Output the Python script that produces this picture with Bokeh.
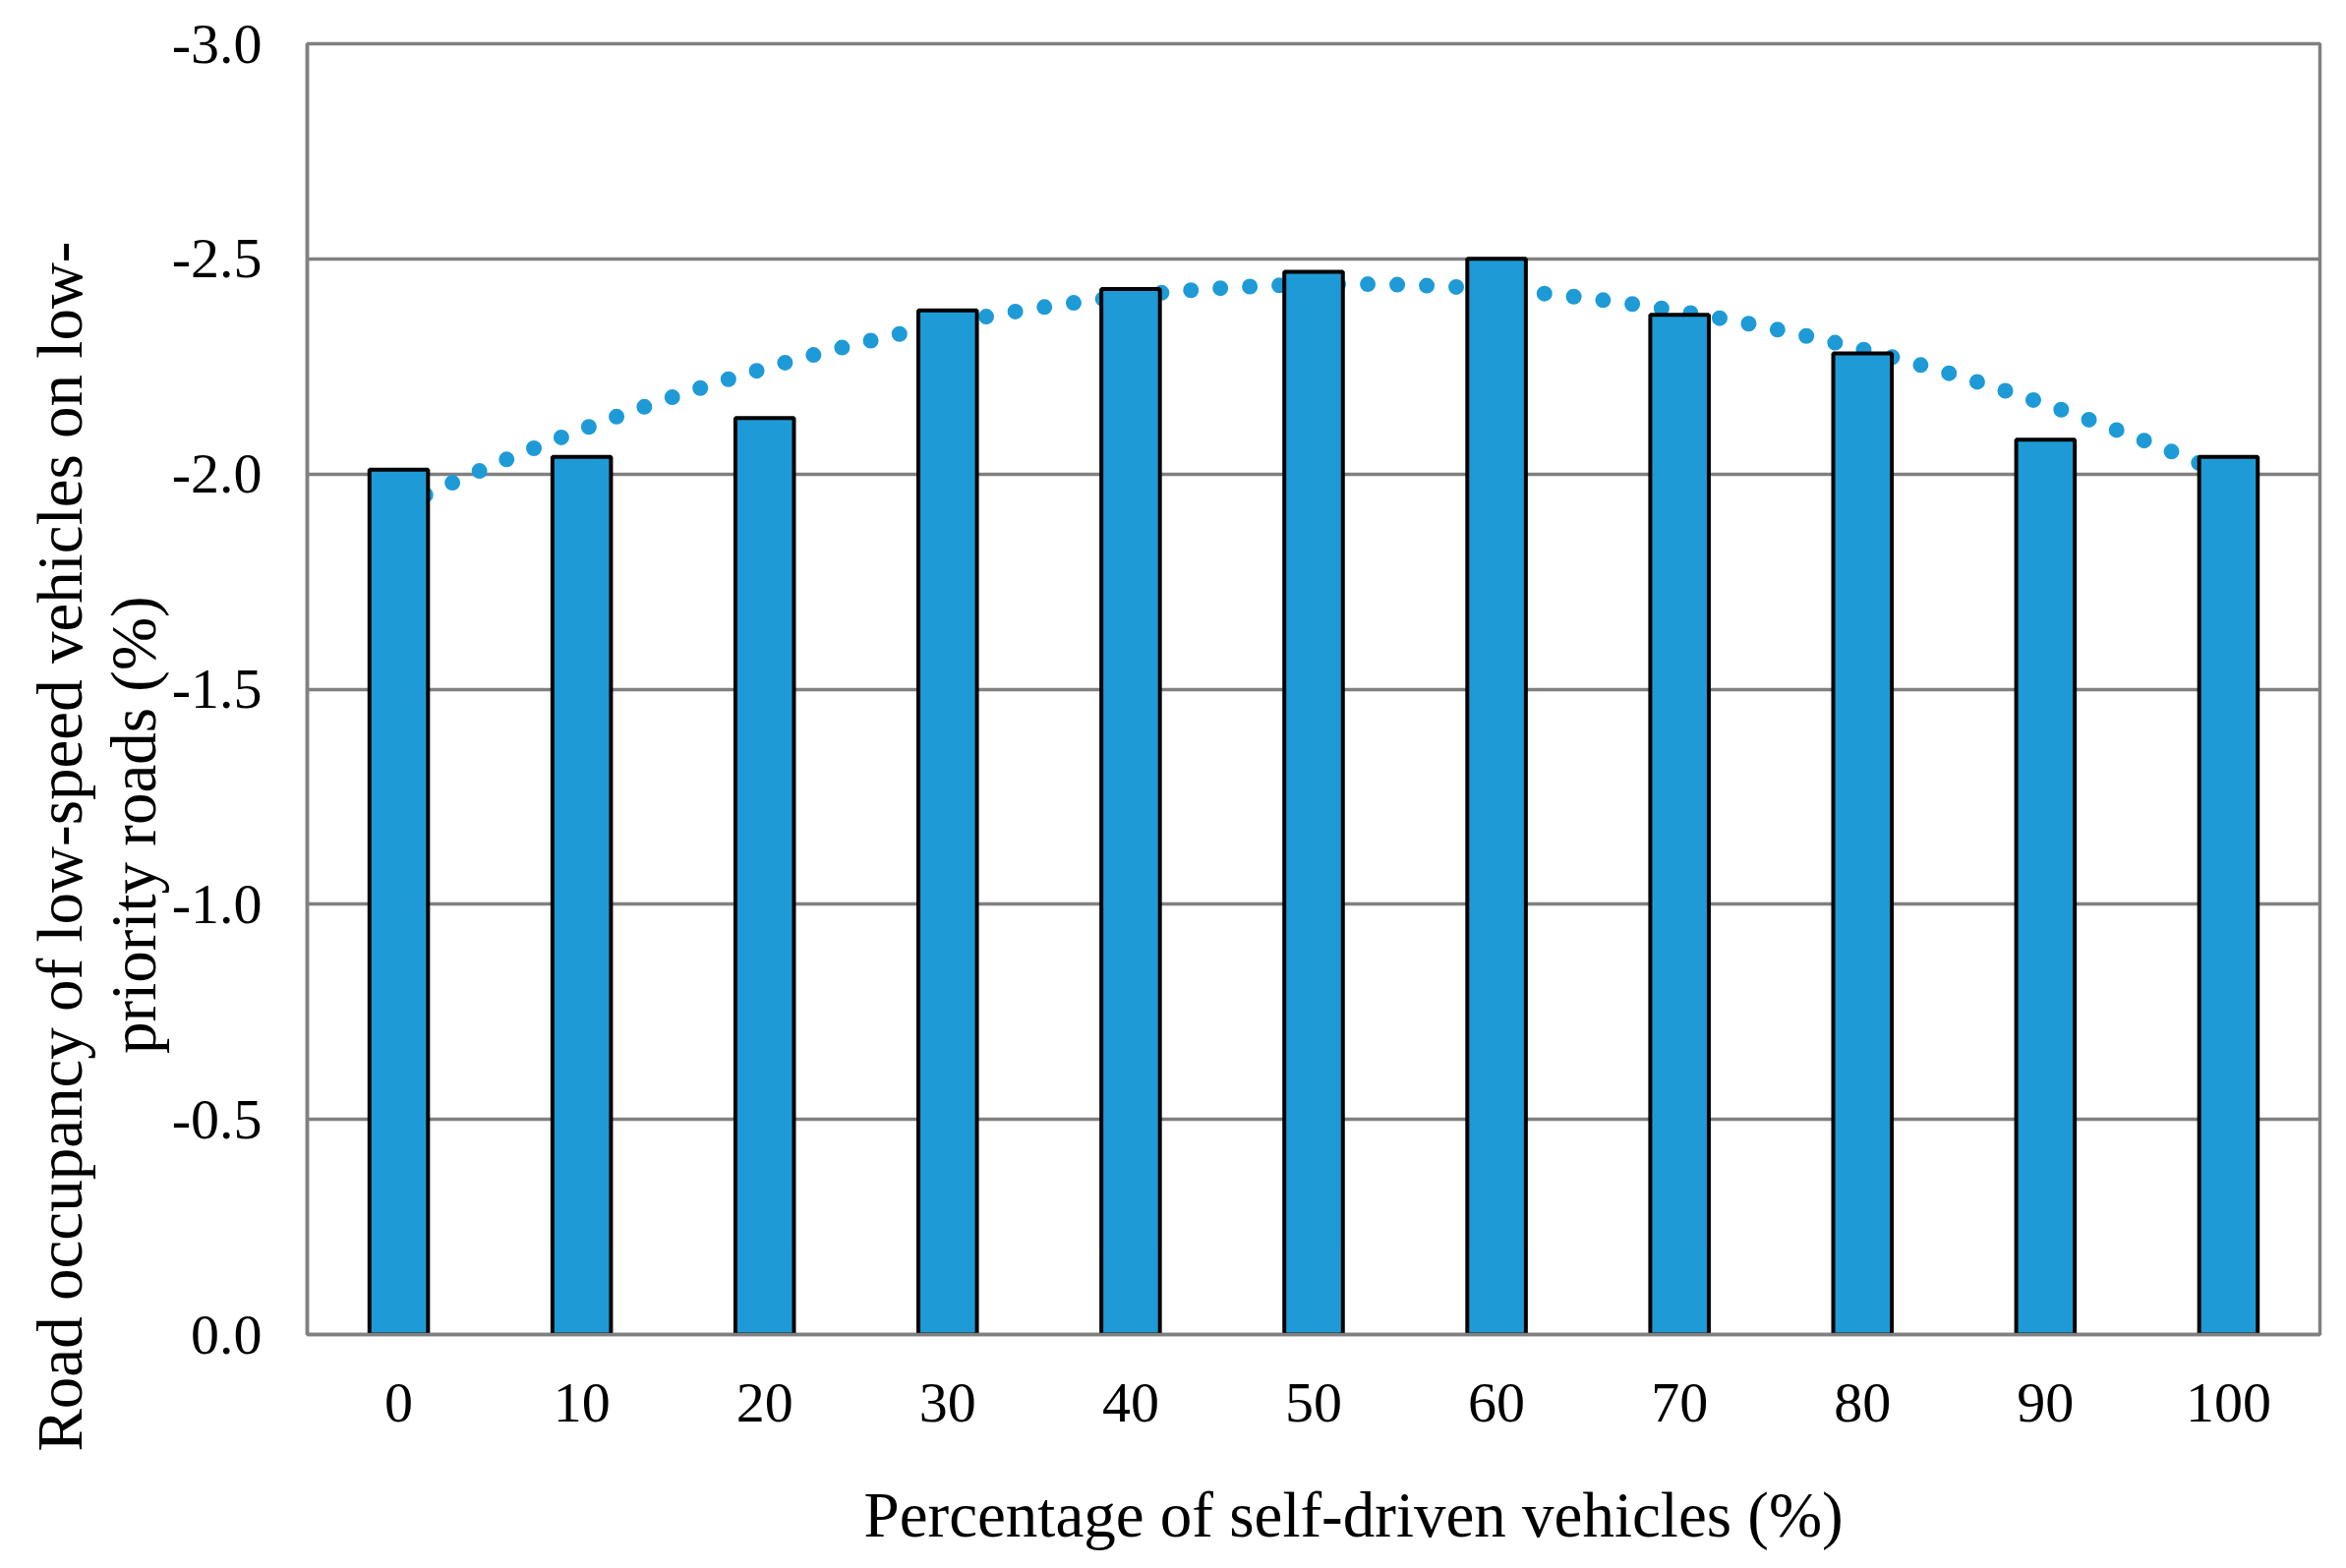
import numpy as np
from bokeh.plotting import figure
from bokeh.models import Range1d, FixedTicker, PrintfTickFormatter, Title
from bokeh.embed import file_html
from bokeh.resources import INLINE

# ---- data ----
pct = [0, 10, 20, 30, 40, 50, 60, 70, 80, 90, 100]
occupancy = [-2.01, -2.04, -2.13, -2.38, -2.43, -2.47, -2.50, -2.37, -2.28, -2.08, -2.04]
y_ticks = [-3.0, -2.5, -2.0, -1.5, -1.0, -0.5, 0.0]
x_title = "Percentage of self-driven vehicles (%)"
y_title_1 = "Road occupancy of low-speed vehicles on low-"
y_title_2 = "priority roads (%)"

BLUE = "#1E9BD7"
GRAY = "#808080"
FONT = "Liberation Serif"
NB = "\u00a0"

p = figure(width=2370, height=1579, output_backend="svg", toolbar_location=None,
           x_range=Range1d(-5, 105), y_range=Range1d(0, -3.0),
           min_border_left=312, min_border_top=44, min_border_right=11, min_border_bottom=217)
p.background_fill_color = "white"
p.border_fill_color = "white"
p.outline_line_color = GRAY
p.outline_line_width = 3.5

# polynomial (order 2) trendline, drawn behind the bars
coef = np.polyfit(pct, occupancy, 2)
tx = np.linspace(pct[0], pct[-1], 300)
ty = np.polyval(coef, tx)
p.line(tx, ty, line_color=BLUE, line_width=16, line_dash="0 30", line_cap="round")

p.vbar(x=pct, top=occupancy, bottom=0, width=3.2, fill_color=BLUE,
       line_color="black", line_width=4)

# axes
p.xaxis.ticker = FixedTicker(ticks=pct)
p.yaxis.ticker = FixedTicker(ticks=y_ticks)
p.yaxis.formatter = PrintfTickFormatter(format="%.1f")
for ax in (p.xaxis, p.yaxis):
    ax.major_tick_line_color = None
    ax.minor_tick_line_color = None
    ax.major_tick_out = 0
    ax.major_tick_in = 0
    ax.minor_tick_out = 0
    ax.minor_tick_in = 0
    ax.axis_line_color = GRAY
    ax.axis_line_width = 3.5
    ax.major_label_text_font = FONT
    ax.major_label_text_font_size = "58px"
    ax.major_label_text_color = "black"
    ax.axis_label_text_font = FONT
    ax.axis_label_text_font_size = "65px"
    ax.axis_label_text_font_style = "normal"
    ax.axis_label_text_color = "black"
p.xaxis.major_label_standoff = 50
p.yaxis.major_label_standoff = 46

p.xaxis.axis_label = NB * 5 + x_title
p.xaxis.axis_label_standoff = 56

# second line of the y title sits right against the tick labels
p.yaxis.axis_label = y_title_2 + NB * 17
p.yaxis.axis_label_standoff = 0

# first line of the y title, further out on the left
p.add_layout(Title(text=y_title_1, align="left", offset=-119, vertical_align="bottom",
                   standoff=0, text_font=FONT, text_font_size="65px",
                   text_font_style="normal", text_color="black"), "left")

p.xgrid.grid_line_color = None
p.ygrid.grid_line_color = GRAY
p.ygrid.grid_line_width = 3.5

open("out.html", "w").write(file_html(p, INLINE))
